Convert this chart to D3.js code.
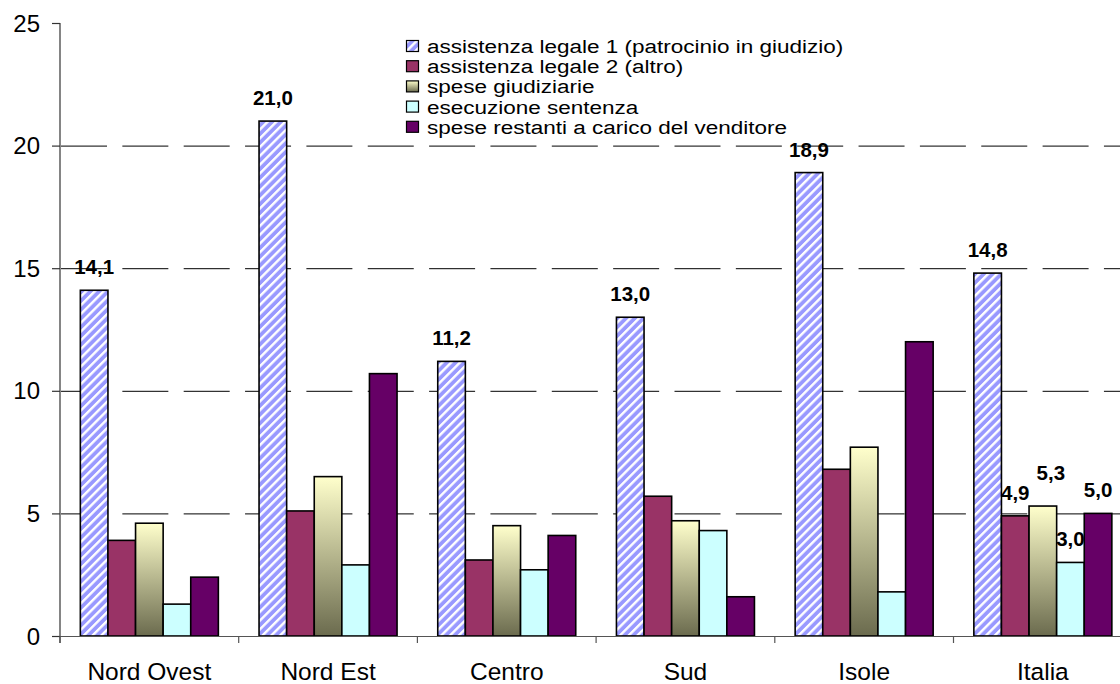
<!DOCTYPE html>
<html>
<head>
<meta charset="utf-8">
<script src="https://cdn.jsdelivr.net/npm/d3@7"></script>
<style>
  html, body { margin: 0; padding: 0; background: #fff; }
  svg { display: block; font-family: "Liberation Sans", Arial, sans-serif; }
</style>
</head>
<body>
<svg id="chart" width="1120" height="684"></svg>
<script>
// ---- data ----
const categories = ["Nord Ovest", "Nord Est", "Centro", "Sud", "Isole", "Italia"];
const seriesNames = [
  "assistenza legale 1 (patrocinio in giudizio)",
  "assistenza legale 2 (altro)",
  "spese giudiziarie",
  "esecuzione sentenza",
  "spese restanti a carico del venditore"
];
const legale1   = [14.1, 21.0, 11.2, 13.0, 18.9, 14.8];
const legale2   = [3.9, 5.1, 3.1, 5.7, 6.8, 4.9];
const giudiziarie = [4.6, 6.5, 4.5, 4.7, 7.7, 5.3];
const esecuzione  = [1.3, 2.9, 2.7, 4.3, 1.8, 3.0];
const restanti    = [2.4, 10.7, 4.1, 1.6, 12.0, 5.0];
const yTicks = [0, 5, 10, 15, 20, 25];
const seriesValues = [legale1, legale2, giudiziarie, esecuzione, restanti];

// ---- layout ----
const W = 1120, H = 684;
const plotLeft = 60, plotBottom = 636, plotTop = 23;
const bandW = 178.7;
const svg = d3.select("#chart");
const defs = svg.append("defs");

// stripe pattern
const pw = 6.2;
const pat = defs.append("pattern").attr("id", "stripes")
  .attr("patternUnits", "userSpaceOnUse").attr("width", pw).attr("height", pw)
  .attr("patternTransform", "rotate(45)");
pat.append("rect").attr("width", pw).attr("height", pw).attr("fill", "#9999FF");
pat.append("rect").attr("x", 0).attr("width", 2.4).attr("height", pw).attr("fill", "#FFFFFF");

const grad = defs.append("linearGradient").attr("id", "olive")
  .attr("x1", 0).attr("y1", 0).attr("x2", 0).attr("y2", 1);
grad.append("stop").attr("offset", "0%").attr("stop-color", "#FFFFCC");
grad.append("stop").attr("offset", "100%").attr("stop-color", "#6B6B4E");

const fills = ["url(#stripes)", "#993366", "url(#olive)", "#CCFFFF", "#660066"];

const x0 = d3.scaleBand().domain(categories).range([plotLeft, plotLeft + bandW * categories.length]).padding(0);
const x1 = d3.scaleBand().domain(d3.range(seriesNames.length)).range([20.35, bandW - 20.35]).padding(0);
const y = d3.scaleLinear().domain([0, 25]).range([plotBottom, plotTop]);

// gridlines
svg.append("g").selectAll("line").data(yTicks.filter(t => t > 0 && t < 25)).join("line")
  .attr("x1", plotLeft + 1).attr("x2", W)
  .attr("y1", d => y(d) + 0.5).attr("y2", d => y(d) + 0.5)
  .attr("stroke", "#000").attr("stroke-width", 1)
  .attr("stroke-dasharray", "46,15.35");

// bars
const groups = svg.append("g").selectAll("g").data(categories).join("g")
  .attr("transform", d => `translate(${x0(d)},0)`);
groups.selectAll("rect").data((c, ci) => seriesValues.map((vals, si) => ({ si, v: vals[ci] })))
  .join("rect")
  .attr("x", d => x1(d.si))
  .attr("width", x1.bandwidth())
  .attr("y", d => y(d.v))
  .attr("height", d => plotBottom - y(d.v))
  .attr("fill", d => fills[d.si])
  .attr("stroke", "#000").attr("stroke-width", 1.6);

// axes
const yAxis = svg.append("g");
yAxis.append("line").attr("x1", plotLeft).attr("x2", plotLeft).attr("y1", plotTop).attr("y2", 643)
  .attr("stroke", "#333").attr("stroke-width", 1.2);
yAxis.selectAll("line.t").data(yTicks).join("line").attr("class", "t")
  .attr("x1", 52).attr("x2", plotLeft).attr("y1", d => y(d) + 0.5).attr("y2", d => y(d) + 0.5)
  .attr("stroke", "#333").attr("stroke-width", 1.2);
yAxis.selectAll("text").data(yTicks).join("text")
  .attr("x", 40).attr("y", d => y(d) + 8.5)
  .attr("text-anchor", "end").attr("font-size", 24).attr("fill", "#000")
  .text(d => d);

const xAxis = svg.append("g");
xAxis.append("line").attr("x1", plotLeft).attr("x2", W).attr("y1", plotBottom + 0.5).attr("y2", plotBottom + 0.5)
  .attr("stroke", "#555").attr("stroke-width", 1.2);
xAxis.selectAll("line.t").data(d3.range(categories.length + 1)).join("line").attr("class", "t")
  .attr("x1", i => plotLeft + i * bandW).attr("x2", i => plotLeft + i * bandW)
  .attr("y1", plotBottom).attr("y2", 643)
  .attr("stroke", "#555").attr("stroke-width", 1.2);
xAxis.selectAll("text").data(categories).join("text")
  .attr("x", d => x0(d) + bandW / 2).attr("y", 680)
  .attr("text-anchor", "middle").attr("font-size", 24.5).attr("fill", "#000")
  .text(d => d);

// data labels: first series for all, all series for Italia
const fmt = v => v.toFixed(1).replace(".", ",");
const labelNudge = { "Italia-2": [8, -10] };
const labels = [];
categories.forEach((c, ci) => {
  seriesValues.forEach((vals, si) => {
    if (si === 0 || c === "Italia") labels.push({ c, si, v: vals[ci] });
  });
});
svg.append("g").selectAll("text").data(labels).join("text")
  .attr("x", d => x0(d.c) + x1(d.si) + x1.bandwidth() / 2 + ((labelNudge[d.c + "-" + d.si] || [0, 0])[0]))
  .attr("y", d => y(d.v) - 16 + ((labelNudge[d.c + "-" + d.si] || [0, 0])[1]))
  .attr("text-anchor", "middle").attr("font-size", 20.5).attr("font-weight", "bold").attr("fill", "#000")
  .text(d => fmt(d.v));

// legend
const leg = svg.append("g");
seriesNames.forEach((name, i) => {
  const by = 53 + 20.2 * i;
  leg.append("rect").attr("x", 406.5).attr("y", by - 12.5).attr("width", 12).attr("height", 11)
    .attr("fill", fills[i]).attr("stroke", "#000").attr("stroke-width", 1.2);
  leg.append("text").attr("transform", `translate(427,${by}) scale(1.25,1)`)
    .attr("font-size", 18).attr("fill", "#000").text(name);
});
</script>
</body>
</html>
